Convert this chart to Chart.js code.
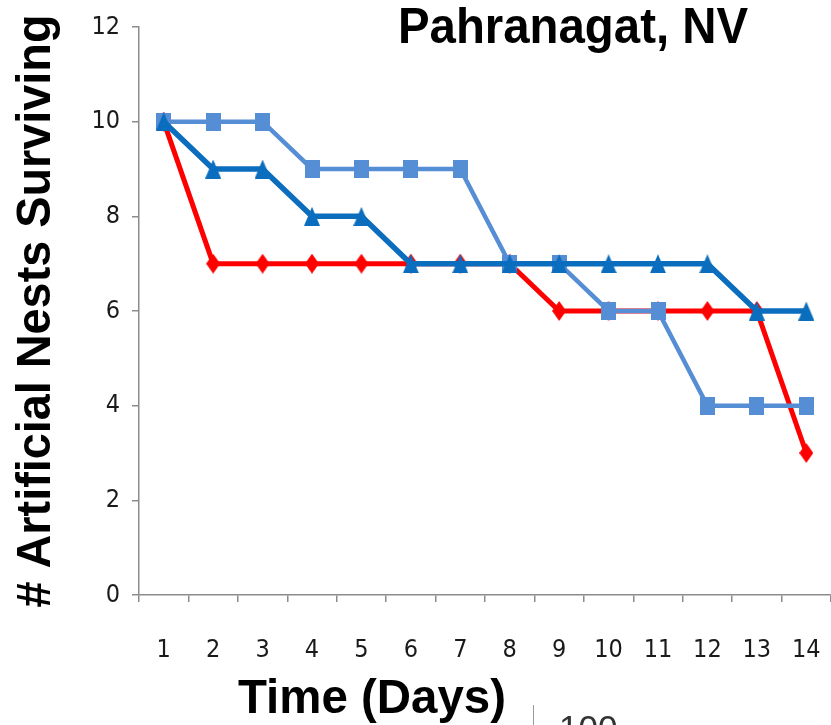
<!DOCTYPE html>
<html>
<head>
<meta charset="utf-8">
<script src="https://cdn.jsdelivr.net/npm/chart.js@4.4.1/dist/chart.umd.min.js"></script>
<style>
  html, body { margin: 0; padding: 0; background: #fff; }
  canvas { display: block; }
</style>
</head>
<body>
<canvas id="grafica" width="831" height="725"></canvas>
<script>
// Días del experimento (eje X)
const dias = ["1", "2", "3", "4", "5", "6", "7", "8", "9", "10", "11", "12", "13", "14"];
// Nidos artificiales sobreviviendo por serie
const serieRoja = [10, 7, 7, 7, 7, 7, 7, 7, 6, 6, 6, 6, 6, 3];
const serieAzulOscuro = [10, 9, 9, 8, 8, 7, 7, 7, 7, 7, 7, 7, 6, 6];
const serieAzulClaro = [10, 10, 10, 9, 9, 9, 9, 7, 7, 6, 6, 4, 4, 4];
// Marcas del eje Y
const ticksY = [0, 2, 4, 6, 8, 10, 12];

const colorRojo = "#FF0000";
const colorAzulOscuro = "#0B6DBE";
const colorAzulClaro = "#558ED5";
const colorEje = "#8C8C8C";
const fuenteNegrita = "'Liberation Sans', Arial, sans-serif";
const fuenteEstrecha = "'Liberation Sans Narrow', 'DejaVu Sans Condensed', 'DejaVu Sans', sans-serif";

// Crear un marcador como canvas (Excel estira un poco los marcadores)
function crearMarcador(forma, ancho, alto, color) {
    let c = document.createElement("canvas");
    c.width = ancho;
    c.height = alto;
    let g = c.getContext("2d");
    g.fillStyle = color;
    g.beginPath();
    if (forma === "rombo") {
        g.moveTo(ancho / 2, 0);
        g.lineTo(ancho, alto / 2);
        g.lineTo(ancho / 2, alto);
        g.lineTo(0, alto / 2);
    } else if (forma === "triangulo") {
        g.moveTo(ancho / 2, 0);
        g.lineTo(ancho, alto);
        g.lineTo(0, alto);
    } else {
        g.rect(0, 0, ancho, alto);
    }
    g.closePath();
    g.fill();
    return c;
}

// Texto estirado/comprimido horizontalmente hasta un ancho dado
function textoAjustado(ctx, texto, x, y, anchoObjetivo, alinear) {
    let w = ctx.measureText(texto).width;
    let sx = anchoObjetivo / w;
    ctx.save();
    ctx.translate(x, y);
    ctx.scale(sx, 1);
    let inicio = alinear === "center" ? -w / 2 : 0;
    ctx.fillText(texto, inicio, 0);
    ctx.restore();
}

// Títulos y restos de texto de la imagen
const textosFijos = {
    id: "textosFijos",
    afterDraw(chart) {
        let ctx = chart.ctx;
        ctx.save();
        ctx.fillStyle = "#000";
        ctx.textBaseline = "alphabetic";
        ctx.textAlign = "left";

        // Título
        ctx.font = "bold 50px " + fuenteNegrita;
        textoAjustado(ctx, "Pahranagat, NV", 398, 43, 350, "left");

        // Título eje X
        ctx.font = "bold 49px " + fuenteNegrita;
        textoAjustado(ctx, "Time (Days)", 372, 713, 268, "center");

        // Título eje Y (rotado)
        ctx.save();
        ctx.translate(50, 311);
        ctx.rotate(-Math.PI / 2);
        ctx.font = "bold 49px " + fuenteNegrita;
        textoAjustado(ctx, "# Artificial Nests Surviving", 0, 0, 593, "center");
        ctx.restore();

        // Fragmento de otra gráfica recortada
        ctx.strokeStyle = "#9A9A9A";
        ctx.lineWidth = 1;
        ctx.beginPath();
        ctx.moveTo(533.5, 705);
        ctx.lineTo(533.5, 725);
        ctx.stroke();
        ctx.fillStyle = "#333";
        ctx.font = "35px " + fuenteNegrita;
        ctx.fillText("100", 559, 740);
        ctx.restore();
    }
};

let ctx = document.getElementById("grafica").getContext("2d");
window.grafica = new Chart(ctx, {
    type: "line",
    data: {
        labels: dias,
        datasets: [
            {
                label: "Serie azul oscuro",
                data: serieAzulOscuro,
                borderColor: colorAzulOscuro,
                backgroundColor: colorAzulOscuro,
                borderWidth: 5.5,
                pointStyle: crearMarcador("triangulo", 16, 19, colorAzulOscuro),
                pointRadius: 9,
                tension: 0
            },
            {
                label: "Serie azul claro",
                data: serieAzulClaro,
                borderColor: colorAzulClaro,
                backgroundColor: colorAzulClaro,
                borderWidth: 4.5,
                pointStyle: crearMarcador("cuadro", 15, 18, colorAzulClaro),
                pointRadius: 9,
                tension: 0
            },
            {
                label: "Serie roja",
                data: serieRoja,
                borderColor: colorRojo,
                backgroundColor: colorRojo,
                borderWidth: 5,
                pointStyle: crearMarcador("rombo", 14, 20, colorRojo),
                pointRadius: 9,
                tension: 0
            }
        ]
    },
    options: {
        responsive: false,
        animation: false,
        devicePixelRatio: 1,
        layout: { autoPadding: false, padding: { top: 24, right: 0, bottom: 0, left: 0 } },
        plugins: {
            legend: { display: false },
            tooltip: { enabled: false },
            title: { display: false }
        },
        elements: { line: { clip: false } },
        scales: {
            x: {
                offset: true,
                grid: {
                    offset: true,
                    drawOnChartArea: false,
                    drawTicks: true,
                    tickLength: 7,
                    color: colorEje,
                    lineWidth: 1.5
                },
                border: { color: colorEje, width: 1.5 },
                ticks: {
                    color: "#1a1a1a",
                    // lineHeight grande para bajar las etiquetas sin usar padding
                    font: { family: fuenteEstrecha, size: 25, lineHeight: "92px" },
                    padding: 2,
                    maxRotation: 0,
                    autoSkip: false
                },
                afterFit: function(escala) {
                    escala.height = 130;
                    // El eje llega hasta el borde derecho
                    escala.paddingLeft = 0;
                    escala.paddingRight = 0;
                }
            },
            y: {
                min: 0,
                max: 12,
                grid: {
                    drawOnChartArea: false,
                    drawTicks: true,
                    tickLength: 7,
                    color: colorEje,
                    lineWidth: 1.5
                },
                border: { color: colorEje, width: 1.5 },
                ticks: {
                    color: "#1a1a1a",
                    font: { family: fuenteEstrecha, size: 25 },
                    padding: 12
                },
                afterBuildTicks: function(escala) {
                    escala.ticks = ticksY.map(v => ({ value: v }));
                },
                afterFit: function(escala) { escala.width = 139; }
            }
        }
    },
    plugins: [textosFijos]
});
</script>
</body>
</html>
